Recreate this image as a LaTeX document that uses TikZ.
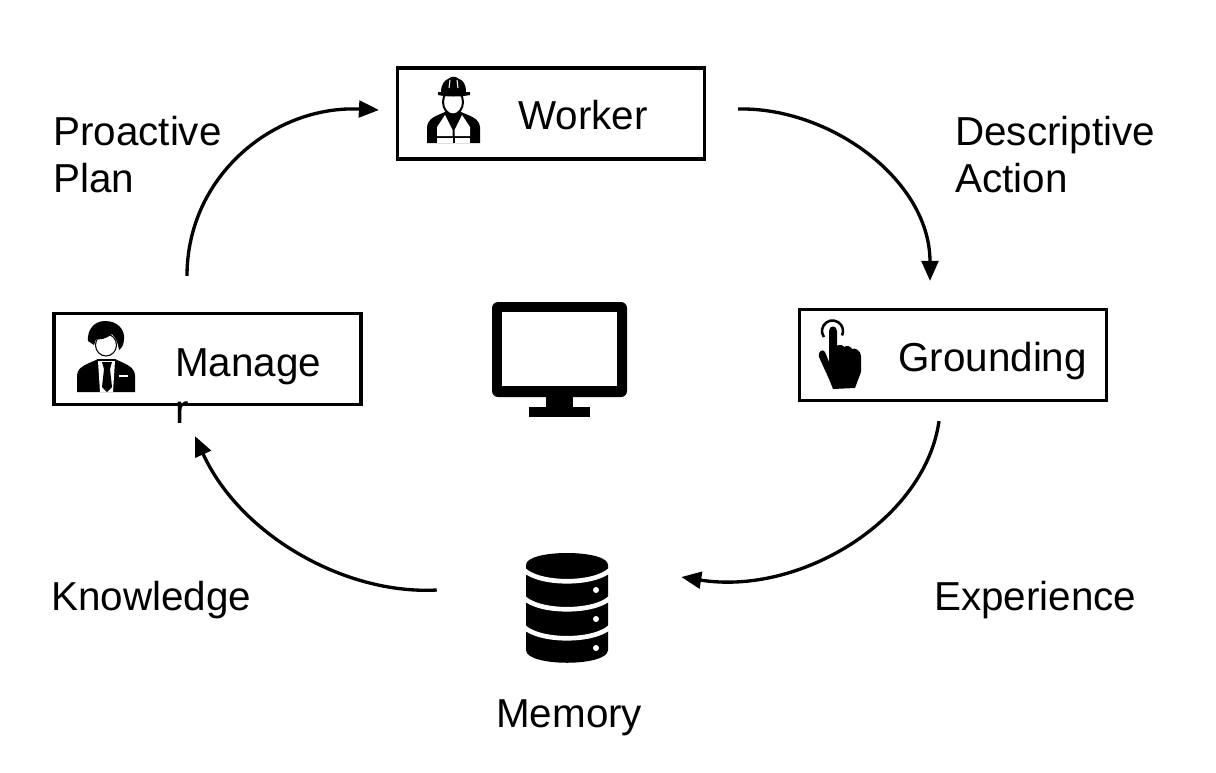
\documentclass[tikz,border=0pt]{standalone}
\usepackage{fontspec}
\setmainfont{Liberation Sans}
\usetikzlibrary{arrows.meta}
\tikzset{
  box/.style={draw,line width=2.6pt,minimum width=230pt,minimum height=68pt,inner sep=0pt},
  lbl/.style={anchor=base west,inner sep=0pt,align=left,font=\fontsize{30.3}{35.25}\selectfont},
  flow/.style={line width=2.5pt,-{Stealth[inset=0pt,length=15pt,width=12.5pt]}},
  icon/.style={fill=black,draw=none},
  gap/.style={fill=white,draw=none}
}
\begin{document}
\begin{tikzpicture}[x=0.75pt,y=-0.75pt]
\useasboundingbox (0,0) rectangle (1216,772);
% boxes, pixel positions of the reference
\node[box] (worker) at (551,113.5) {};
\node[box] (manager) at (207.5,359) {};
\node[box] (grounding) at (953,355) {};
\node[minimum width=61.5pt,minimum height=82.5pt,inner sep=0pt] (database) at (567,608) {};
% labels
\node[lbl] (workertext) at (518,129) {Worker};
\node[lbl] (managertext) at (175,423) {Manage\\r};
\node[lbl] (groundingtext) at (898,371) {Grounding};
\node[lbl] (proactive) at (53,192) {Proactive\\Plan};
\node[lbl] (descriptive) at (955,192) {Descriptive\\Action};
\node[lbl] (knowledge) at (51,610) {Knowledge};
\node[lbl] (experience) at (934,610) {Experience};
\node[lbl] (memory) at (496,727) {Memory};
% free ends of the arcs
\coordinate (planout) at ([shift={(-20.5,-36)}]manager.north);
\coordinate (planin) at ([shift={(-17,-3.5)}]worker.west);
\coordinate (actionout) at ([shift={(32,-4.5)}]worker.east);
\coordinate (actionin) at ([shift={(-23,-27)}]grounding.north);
\coordinate (expout) at ([shift={(-14,19)}]grounding.south);
\coordinate (expin) at ([shift={(73,-31)}]database.east);
\coordinate (knowout) at ([shift={(-89,-18)}]database.west);
\coordinate (knowin) at ([shift={(-12.5,30)}]manager.south);
\draw[flow] (planout) .. controls (187,175) and (275,105) .. (planin);
\draw[flow] (actionout) .. controls (830,107) and (930,180) .. (actionin);
\draw[flow] (expout) .. controls (925,520) and (800,596) .. (expin);
\draw[flow] (knowout) .. controls (345,595) and (240,535) .. (knowin);
% worker icon
\fill[icon] (427,143) -- (427,127) .. controls (428,118) and (436,116) .. (445,112) -- (461,112) .. controls (470,116) and (479,118) .. (480,127) -- (480,143) -- cycle;
\fill[gap] (437,136) -- (437,127) -- (445,115) -- (452.5,130) -- (452.5,136) -- cycle;
\fill[gap] (470,136) -- (470,127) -- (462,115) -- (454.5,130) -- (454.5,136) -- cycle;
\fill[gap] (437,138) rectangle (452.5,143);
\fill[gap] (454.5,138) rectangle (470,143);
\draw[black,fill=white,line width=1.5pt] (453,102) ellipse (10 and 12.5);
\fill[icon] (441,92) .. controls (441,84) and (445,80) .. (448,79) .. controls (451,76) and (456,76) .. (459,79) .. controls (463,80) and (466,84) .. (466,92) -- (470,92) -- (470,95) .. controls (460,97) and (447,97) .. (438,95) -- (438,92) -- cycle;
\draw[white,line width=0.8pt] (450,80) -- (449,88) (457,80) -- (458,88);
% manager icon
\fill[icon] (77,392) -- (77,375) .. controls (78,366) and (88,364) .. (98,359) -- (115,359) .. controls (125,364) and (134,366) .. (135,375) -- (135,392) -- cycle;
\fill[gap] (98,361) -- (115,361) -- (113,392) -- (100,392) -- cycle;
\fill[icon] (102,362) -- (112,362) -- (110,369) -- (112,387) -- (107,392) -- (102,387) -- (104,369) -- cycle;
\fill[gap] (119,374.5) rectangle (128,377);
\draw[black,fill=white,line width=0.8pt] (106,345) ellipse (10.5 and 11);
\fill[icon] (88,341) .. controls (87,330) and (94,321) .. (105,321) .. controls (118,321) and (125,330) .. (124,339) .. controls (124,344) and (122,348) .. (119,350) .. controls (118,343) and (116,338) .. (112,334) .. controls (106,339) and (100,340) .. (96,339) -- (94,345) -- cycle;
% grounding icon
\draw[line width=1.9pt] (832.5,331) ++(145:10.5) arc[start angle=145,end angle=385,radius=10.5];
\fill[icon] (829,350) -- (829,331) .. controls (829,325) and (837,325) .. (837,331) -- (837,346) .. controls (839,344) and (843,345) .. (844,347) .. controls (846,345) and (851,346) .. (852,349) .. controls (855,347) and (861,351) .. (861,356) -- (861,372) -- (855,388) -- (833,389) -- (829,379) -- (819,357) .. controls (817,352) and (823,348) .. (825,352) -- (829,362) -- cycle;
% database icon
\fill[icon] (526,565) .. controls (526,549) and (608,549) .. (608,565) -- (608,650) .. controls (608,667) and (526,667) .. (526,650) -- cycle;
\draw[white,line width=3.5pt] (524,570) .. controls (540,585) and (594,585) .. (610,570);
\draw[white,line width=3.5pt] (524,598) .. controls (540,613) and (594,613) .. (610,598);
\draw[white,line width=3.5pt] (524,627) .. controls (540,642) and (594,642) .. (610,627);
\fill[gap] (596,590) circle (3);
\fill[gap] (596,619) circle (3);
\fill[gap] (596,648) circle (3);
% screen in the middle
\fill[icon,rounded corners=4.5pt] (492,302) rectangle (627,397);
\fill[gap] (502,312) rectangle (617,386);
\fill[icon] (546,395) rectangle (573,408);
\fill[icon] (529,407) rectangle (590,417);
\end{tikzpicture}
\end{document}
